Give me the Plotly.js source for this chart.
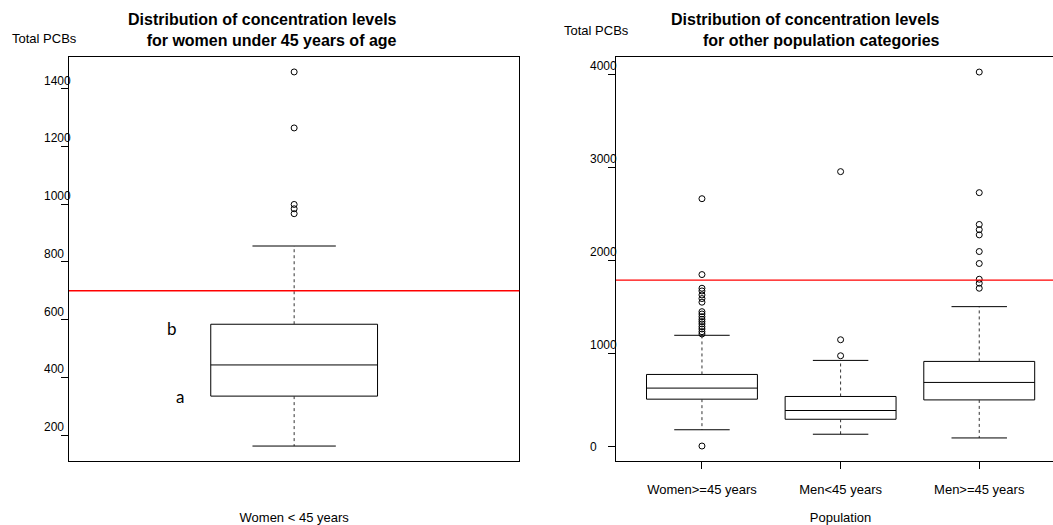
<!DOCTYPE html>
<html><head><meta charset="utf-8">
<script src="https://cdn.plot.ly/plotly-3.0.1.min.js"></script>
<style>html,body{margin:0;padding:0;overflow:hidden;background:#fff;width:1053px;height:525px}#chart{width:1070px;height:525px}</style>
</head><body><div id="chart"></div>
<script>
// ---- Left panel: women under 45 years ----
const leftCategory = ["Women < 45 years"];
const leftQ1 = [335];
const leftMedian = [443];
const leftQ3 = [584];
const leftLowerWhisker = [162];
const leftUpperWhisker = [855];
const leftOutliers = [[1458, 1264, 999, 984, 967]];
const leftThreshold = 700;
const leftTicks = [200, 400, 600, 800, 1000, 1200, 1400];

// ---- Right panel: other population categories ----
const rightCategories = ["Women>=45 years", "Men<45 years", "Men>=45 years"];
const rightQ1 = [510, 294, 502];
const rightMedian = [629, 388, 690];
const rightQ3 = [776, 539, 916];
const rightLowerWhisker = [181, 133, 93];
const rightUpperWhisker = [1197, 927, 1505];
const rightOutliers = [
  [2666, 1850, 1703, 1674, 1631, 1592, 1553, 1451, 1426, 1397, 1369, 1344, 1319, 1290, 1265, 1236, 1211, 6],
  [2957, 1149, 977],
  [4028, 2731, 2389, 2333, 2277, 2098, 1969, 1800, 1757, 1703]
];
const rightThreshold = 1790;
const rightTicks = [0, 1000, 2000, 3000, 4000];

const W = 1070, H = 525, MT = 57, MB = 64;
const px = p => p / W;
const py = p => (H - MB - p) / (H - MT - MB);
const FONT = 'Liberation Sans, Arial, sans-serif';

function panel(xa, ya, q1, med, q3, lw, uw, outl, boxW) {
  const pos = q1.map((_, i) => i + 1);
  const out = [];
  out.push({type: 'box', x: pos, q1: q1, median: med, q3: q3, lowerfence: q1, upperfence: q3,
    width: boxW, whiskerwidth: 0, boxpoints: false, fillcolor: 'rgba(0,0,0,0)',
    line: {color: '#000', width: 1}, xaxis: xa, yaxis: ya, hoverinfo: 'skip'});
  const wx = [], wy = [], cx = [], cy = [], ox = [], oy = [];
  pos.forEach((p, i) => {
    wx.push(p, p, null, p, p, null); wy.push(q3[i], uw[i], null, q1[i], lw[i], null);
    cx.push(p - boxW / 4, p + boxW / 4, null, p - boxW / 4, p + boxW / 4, null);
    cy.push(uw[i], uw[i], null, lw[i], lw[i], null);
    outl[i].forEach(v => { ox.push(p); oy.push(v); });
  });
  out.push({type: 'scatter', mode: 'lines', x: wx, y: wy, xaxis: xa, yaxis: ya,
    line: {color: '#333', width: 1, dash: '3px,3px'}, hoverinfo: 'skip'});
  out.push({type: 'scatter', mode: 'lines', x: cx, y: cy, xaxis: xa, yaxis: ya,
    line: {color: '#000', width: 1}, hoverinfo: 'skip'});
  out.push({type: 'scatter', mode: 'markers', x: ox, y: oy, xaxis: xa, yaxis: ya,
    marker: {symbol: 'circle-open', size: 6, color: '#000', line: {width: 1, color: '#000'}}});
  return out;
}

const traces = [].concat(
  panel('x', 'y', leftQ1, leftMedian, leftQ3, leftLowerWhisker, leftUpperWhisker, leftOutliers, 0.4),
  panel('x2', 'y2', rightQ1, rightMedian, rightQ3, rightLowerWhisker, rightUpperWhisker, rightOutliers, 0.8)
);

const axisBase = {showline: true, mirror: true, linecolor: '#000', linewidth: 1,
  showgrid: false, zeroline: false, fixedrange: true};

const annotations = [];
leftTicks.forEach(v => annotations.push({xref: 'paper', yref: 'y', x: px(42), xanchor: 'left',
  y: v, yanchor: 'middle', yshift: 8, text: String(v), showarrow: false, font: {size: 12}}));
rightTicks.forEach(v => annotations.push({xref: 'paper', yref: 'y2', x: px(588), xanchor: 'left',
  y: v, yanchor: 'middle', yshift: v === 0 ? 0 : 9, text: String(v), showarrow: false, font: {size: 12}}));
annotations.push({xref: 'paper', yref: 'paper', x: px(10), xanchor: 'left', y: py(39), yanchor: 'middle',
  text: 'Total PCBs', showarrow: false, font: {size: 13}});
annotations.push({xref: 'paper', yref: 'paper', x: px(562), xanchor: 'left', y: py(31), yanchor: 'middle',
  text: 'Total PCBs', showarrow: false, font: {size: 13}});
annotations.push({xref: 'paper', yref: 'paper', x: px(399), xanchor: 'right', align: 'right',
  y: py(9), yanchor: 'top', showarrow: false,
  text: '<b>Distribution of concentration levels</b><br><b>for women under 45 years of age</b>', font: {size: 16}});
annotations.push({xref: 'paper', yref: 'paper', x: px(942), xanchor: 'right', align: 'right',
  y: py(9), yanchor: 'top', showarrow: false,
  text: '<b>Distribution of concentration levels</b><br><b>for other population categories</b>', font: {size: 16}});
annotations.push({xref: 'x', yref: 'y', x: 0.707, y: leftQ3[0], yshift: -4, text: 'b', showarrow: false,
  font: {family: 'Lato, Open Sans, sans-serif', size: 17}});
annotations.push({xref: 'x', yref: 'y', x: 0.726, y: leftQ1[0], text: 'a', showarrow: false,
  font: {family: 'Lato, Open Sans, sans-serif', size: 17}});

const layout = {
  width: W, height: H, margin: {l: 0, r: 0, t: MT, b: MB},
  paper_bgcolor: '#fff', plot_bgcolor: '#fff', showlegend: false,
  font: {family: FONT, size: 13, color: '#000'},
  xaxis: Object.assign({}, axisBase, {domain: [px(69), px(519.3)], range: [0.46, 1.54], anchor: 'y',
    ticks: '', showticklabels: false,
    title: {text: leftCategory[0], font: {size: 13}, standoff: 52}}),
  yaxis: Object.assign({}, axisBase, {domain: [0, 1], range: [110.2, 1509.8], anchor: 'x',
    ticks: 'outside', ticklen: 7, tickcolor: '#000', tickvals: leftTicks, showticklabels: false}),
  xaxis2: Object.assign({}, axisBase, {domain: [px(616), px(1065.2)], range: [0.38, 3.62], anchor: 'y2',
    ticks: 'outside', ticklen: 7, tickcolor: '#000', tickvals: [1, 2, 3], ticktext: rightCategories,
    ticklabelstandoff: 9, tickfont: {size: 13},
    title: {text: 'Population', font: {size: 13}, standoff: 17}}),
  yaxis2: Object.assign({}, axisBase, {domain: [0, 1], range: [-155, 4190], anchor: 'x2',
    ticks: 'outside', ticklen: 7, tickcolor: '#000', tickvals: rightTicks, showticklabels: false}),
  shapes: [
    {type: 'line', xref: 'x domain', yref: 'y', x0: 0, x1: 1, y0: leftThreshold, y1: leftThreshold,
      line: {color: '#ff0000', width: 1.3}},
    {type: 'line', xref: 'x2 domain', yref: 'y2', x0: 0, x1: 1, y0: rightThreshold, y1: rightThreshold,
      line: {color: '#ff0000', width: 1.3}}
  ],
  annotations: annotations
};

Plotly.newPlot('chart', traces, layout, {staticPlot: true, displayModeBar: false});
</script>
</body></html>
